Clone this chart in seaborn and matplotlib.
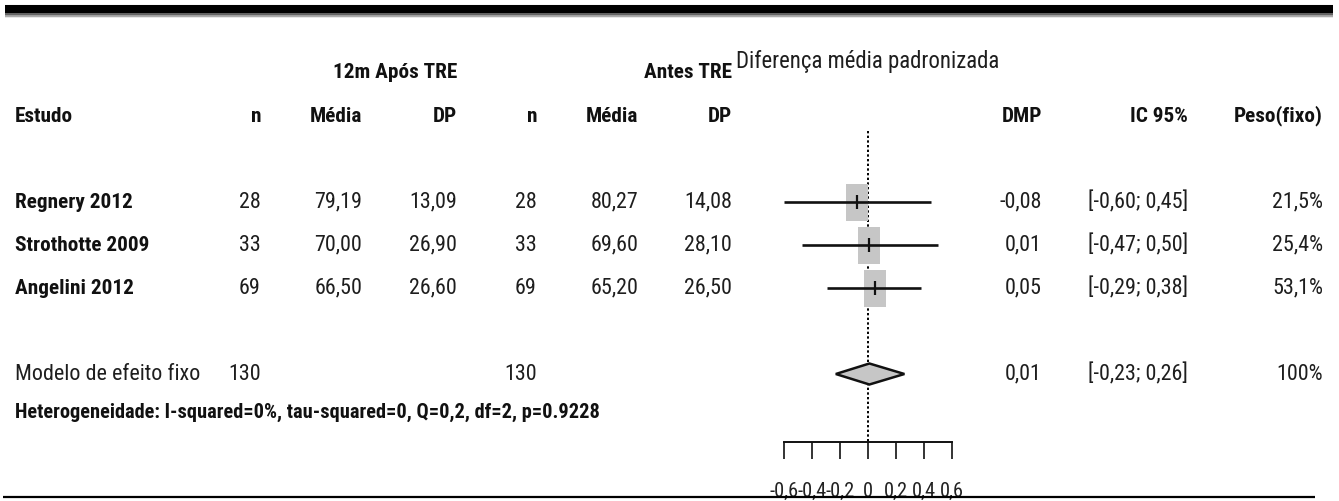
import matplotlib
matplotlib.use("Agg")
import matplotlib.pyplot as plt
import matplotlib.transforms as mtransforms
from matplotlib.patches import Rectangle
from matplotlib.lines import Line2D
from matplotlib import font_manager
from matplotlib.font_manager import FontProperties
import seaborn as sns

# ---- data -------------------------------------------------------------
studies = ["Regnery 2012", "Strothotte 2009", "Angelini 2012"]
n_after = [28, 33, 69]
mean_after = [79.19, 70.00, 66.50]
sd_after = [13.09, 26.90, 26.60]
n_before = [28, 33, 69]
mean_before = [80.27, 69.60, 65.20]
sd_before = [14.08, 28.10, 26.50]
smd = [-0.08, 0.01, 0.05]
ci_low = [-0.60, -0.47, -0.29]
ci_high = [0.45, 0.50, 0.38]
weight = [21.5, 25.4, 53.1]

pooled_label = "Modelo de efeito fixo"
pooled_n_after = 130
pooled_n_before = 130
pooled_smd = 0.01
pooled_low = -0.23
pooled_high = 0.26
pooled_weight = "100%"

heterogeneity = "Heterogeneidade: I-squared=0%, tau-squared=0, Q=0,2, df=2, p=0.9228"
x_ticks = [-0.6, -0.4, -0.2, 0, 0.2, 0.4, 0.6]
x_tick_labels = ["-0,6", "-0,4", "-0,2", "0", "0,2", "0,4", "0,6"]


def br(v, nd=2):
    return f"{v:.{nd}f}".replace(".", ",")


# ---- style ------------------------------------------------------------
sns.set_theme(style="white")
plt.rcParams["font.family"] = ["Liberation Sans", "DejaVu Sans"]


def _weight(f):
    w = f.weight
    if isinstance(w, str):
        w = font_manager.weight_dict.get(w, 400)
    return int(w)


def narrow_font(bold):
    """Pick the narrowest sans face available (regular or bold)."""
    prefs = ["Liberation Sans Narrow", "Roboto Condensed", "Open Sans Condensed",
             "Noto Sans Condensed", "Noto Sans", "DejaVu Sans", "Roboto", "Open Sans"]
    target = 700 if bold else 400
    best, best_key = None, None
    for f in font_manager.fontManager.ttflist:
        if f.style != "normal":
            continue
        st = str(f.stretch)
        is_narrow = ("Narrow" in f.name or "Condensed" in f.name or
                     st in ("condensed", "semi-condensed", "extra-condensed", "ultra-condensed"))
        if not is_narrow:
            continue
        rank = len(prefs)
        for i, p in enumerate(prefs):
            if f.name.startswith(p):
                rank = i
                break
        key = (abs(_weight(f) - target) > 150, rank, abs(_weight(f) - target),
               st not in ("condensed", "semi-condensed"))
        if best_key is None or key < best_key:
            best, best_key = f, key
    if best is None:
        return FontProperties(family=["Liberation Sans", "DejaVu Sans"],
                              weight="bold" if bold else "normal")
    return FontProperties(fname=best.fname)


FP_REG = narrow_font(False)
FP_BOLD = narrow_font(True)

W, H = 1339, 501
fig = plt.figure(figsize=(W / 100, H / 100), dpi=100)
fig.patch.set_facecolor("white")
renderer = fig.canvas.get_renderer()


def fit_size(text, fp, width_px, cap=19.0):
    probe = fp.copy()
    probe.set_size(10)
    t = fig.text(0, 0, text, fontproperties=probe)
    w = t.get_window_extent(renderer).width
    t.remove()
    return min(cap, 10 * width_px / w)


FS_BOLD = fit_size("Strothotte 2009", FP_BOLD, 134)
FS_REG = min(fit_size("79,19", FP_REG, 48), FS_BOLD + 1)
FS_HET = fit_size(heterogeneity, FP_BOLD, 585)
FS_SM = fit_size("Diferença média padronizada", FP_REG, 262)
FS_TICK = fit_size("-0,6", FP_REG, 29)

# row layout (pixels): first header line at 73 px, 43 px per line
ROW0, STEP = 73, 43


def row_of(px):
    return (px - ROW0) / STEP


# forest panel: zero at 868 px, 140 px per unit
ZERO, UNIT = 868, 140
ax_left, ax_right, ax_top, ax_bottom = 740, 1000, 40, 442
ax = fig.add_axes([ax_left / W, 1 - ax_bottom / H, (ax_right - ax_left) / W, (ax_bottom - ax_top) / H])
ax.set_xlim((ax_left - ZERO) / UNIT, (ax_right - ZERO) / UNIT)
ax.set_ylim(row_of(ax_bottom), row_of(ax_top))
ax.patch.set_alpha(0)

study_rows = [3, 4, 5]
pooled_row = 7
het_row = 8

# reference line at zero
ax.vlines(0, row_of(131), row_of(ax_bottom), color="black", lw=1.4,
          linestyles=(0, (1.2, 1.2)), zorder=1)

# study boxes, CI lines and point marks
box_w = 22 / UNIT
box_h = 37 / STEP
for est, r in zip(smd, study_rows):
    ax.add_patch(Rectangle((est - box_w / 2, r - box_h / 2), box_w, box_h,
                           facecolor="#c6c6c6", edgecolor="none", zorder=2))
ax.hlines(study_rows, ci_low, ci_high, color="#111111", lw=1.9, zorder=3)
sns.scatterplot(x=smd, y=study_rows, marker="|", s=110, color="#111111",
                linewidth=1.6, ax=ax, zorder=4, legend=False)

# pooled diamond
dh = 10.5 / STEP
ax.fill([pooled_low, pooled_smd, pooled_high, pooled_smd],
        [pooled_row, pooled_row - dh, pooled_row, pooled_row + dh],
        facecolor="#c6c6c6", edgecolor="#111111", lw=1.8, zorder=3)

# x axis
for side in ["top", "right", "left"]:
    ax.spines[side].set_visible(False)
ax.spines["bottom"].set_bounds(x_ticks[0], x_ticks[-1])
ax.spines["bottom"].set_color("#111111")
ax.spines["bottom"].set_linewidth(1.4)
ax.set_xticks(x_ticks)
ax.set_xticklabels(x_tick_labels)
ax.set_yticks([])
ax.tick_params(axis="x", direction="out", length=12.5, width=1.2, color="#111111",
               pad=16, labelcolor="#222222", bottom=True)
tick_fp = FP_REG.copy()
tick_fp.set_size(FS_TICK)
for lbl in ax.get_xticklabels():
    lbl.set_fontproperties(tick_fp)
ax.grid(False)

# ---- table text ----------------------------------------------------------
tr = mtransforms.blended_transform_factory(fig.transFigure, ax.transData)
BLACK = "#111111"
GREY = "#1e1e1e"


def put(px, row, s, ha="right", bold=False, size=None):
    fp = (FP_BOLD if bold else FP_REG).copy()
    fp.set_size(size or (FS_BOLD if bold else FS_REG))
    ax.text(px / W, row, s, transform=tr, ha=ha, va="center", fontproperties=fp,
            color=BLACK if bold else GREY, clip_on=False)


X_STUDY, X_N1, X_M1, X_SD1 = 15, 261, 362, 457
X_N2, X_M2, X_SD2 = 537, 638, 732
X_DMP, X_IC, X_W = 1042, 1188, 1323

put(X_SD1, 0, "12m Após TRE", bold=True)
put(X_SD2, 0, "Antes TRE", bold=True)
put(ZERO, -0.27, "Diferença média padronizada", ha="center", size=FS_SM)

for px, s, ha in [(X_STUDY, "Estudo", "left"), (X_N1, "n", "right"), (X_M1, "Média", "right"),
                  (X_SD1, "DP", "right"), (X_N2, "n", "right"), (X_M2, "Média", "right"),
                  (X_SD2, "DP", "right"), (X_DMP, "DMP", "right"), (X_IC, "IC 95%", "right"),
                  (X_W, "Peso(fixo)", "right")]:
    put(px, 1, s, ha=ha, bold=True)

for i, r in enumerate(study_rows):
    put(X_STUDY, r, studies[i], ha="left", bold=True)
    put(X_N1, r, str(n_after[i]))
    put(X_M1, r, br(mean_after[i]))
    put(X_SD1, r, br(sd_after[i]))
    put(X_N2, r, str(n_before[i]))
    put(X_M2, r, br(mean_before[i]))
    put(X_SD2, r, br(sd_before[i]))
    put(X_DMP, r, br(smd[i]))
    put(X_IC, r, f"[{br(ci_low[i])}; {br(ci_high[i])}]")
    put(X_W, r, br(weight[i], 1) + "%")

put(X_STUDY, pooled_row, pooled_label, ha="left")
put(X_N1, pooled_row, str(pooled_n_after))
put(X_N2, pooled_row, str(pooled_n_before))
put(X_DMP, pooled_row, br(pooled_smd))
put(X_IC, pooled_row, f"[{br(pooled_low)}; {br(pooled_high)}]")
put(X_W, pooled_row, pooled_weight)

put(X_STUDY, het_row - 0.1, heterogeneity, ha="left", bold=True, size=FS_HET)

# ---- frame rules ----------------------------------------------------------
for off, lw, alpha in [(9, 4.0, 0.12), (8, 2.8, 0.25), (7, 1.6, 0.4)]:
    fig.add_artist(Line2D([5 / W, 1333 / W], [1 - (9 + off * 0.7) / H] * 2,
                          lw=lw, color="black", alpha=alpha, solid_capstyle="butt"))
fig.add_artist(Line2D([5 / W, 1333 / W], [1 - 9 / H] * 2, lw=5.8, color="black",
                      solid_capstyle="butt"))
fig.add_artist(Line2D([3 / W, 1315 / W], [1 - 497 / H] * 2, lw=1.6, color="black",
                      solid_capstyle="butt"))

fig.savefig("out.png", dpi=100, facecolor="white")
